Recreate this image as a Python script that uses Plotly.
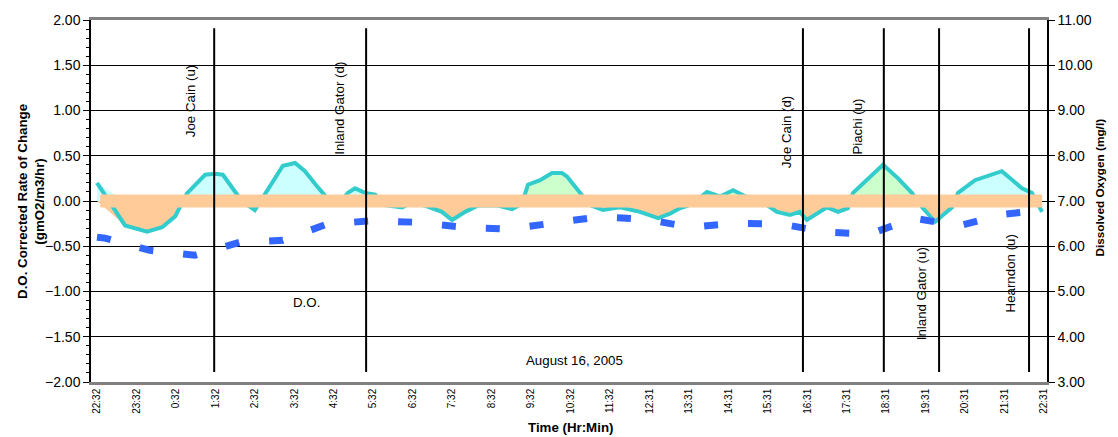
import plotly.graph_objects as go

# ---------------- data ----------------
tick_labels = ["22:32", "23:32", "0:32", "1:32", "2:32", "3:32", "4:32", "5:32", "6:32",
               "7:32", "8:32", "9:32", "10:32", "11:32", "12:31", "13:31", "14:31", "15:31",
               "16:31", "17:31", "18:31", "19:31", "20:31", "21:31", "22:31"]
tick_hours = list(range(25))

# D.O. corrected rate of change (gmO2/m3/hr), hours after 22:32
rate_hours = [0.00, 0.71, 1.27, 1.65, 1.98, 2.28, 2.74, 2.99, 3.19, 3.42, 3.67, 4.00, 4.21,
              4.71, 5.02, 5.27, 5.60, 5.90, 6.11, 6.36, 6.54, 6.79, 7.05, 7.30, 7.73, 7.93,
              8.31, 8.74, 9.00, 9.33, 9.66, 10.16, 10.52, 10.77, 10.92, 11.23, 11.53, 11.78,
              11.91, 12.24, 12.49, 12.82, 13.25, 13.76, 14.22, 14.52, 14.77, 15.03, 15.46,
              15.79, 16.12, 16.35, 16.68, 16.98, 17.23, 17.56, 17.81, 17.99, 18.50, 18.78,
              19.03, 19.16, 19.54, 19.92, 20.30, 20.65, 20.91, 21.24, 21.67, 21.82, 22.25,
              22.93, 23.44, 23.69, 23.95]
rate_values = [0.20, -0.27, -0.34, -0.29, -0.17, 0.085, 0.29, 0.30, 0.29, 0.15, 0.00, -0.10, 0.05,
               0.39, 0.42, 0.33, 0.15, 0.00, -0.03, 0.09, 0.14, 0.09, 0.07, -0.045, -0.07, -0.03,
               -0.05, -0.12, -0.21, -0.12, -0.05, -0.05, -0.09, -0.03, 0.18, 0.23, 0.31, 0.31,
               0.27, 0.09, -0.045, -0.10, -0.07, -0.12, -0.19, -0.14, -0.08, -0.045, 0.10,
               0.05, 0.12, 0.07, 0.00, -0.045, -0.12, -0.155, -0.12, -0.21, -0.07, -0.12,
               -0.08, 0.09, 0.25, 0.40, 0.25, 0.09, -0.07, -0.23, -0.07, 0.09, 0.23,
               0.33, 0.14, 0.09, -0.12]

# Dissolved oxygen (mg/l)
do_hours = [0.00, 0.20, 1.34, 2.48, 3.62, 4.71, 5.83, 6.94, 8.11, 9.28, 10.44, 11.58, 12.72,
            13.89, 15.03, 16.19, 17.36, 18.50, 19.59, 20.70, 21.85, 22.99, 23.97]
do_values = [6.20, 6.18, 5.91, 5.80, 6.09, 6.13, 6.49, 6.56, 6.53, 6.42, 6.38, 6.53, 6.65,
             6.60, 6.42, 6.51, 6.49, 6.31, 6.27, 6.62, 6.45, 6.71, 6.80]

station_names = ["Joe Cain (u)", "Inland Gator (d)", "Joe Cain (d)", "Piachi (u)",
                 "Inland Gator (u)", "Hearndon (u)"]
station_hours = [2.97, 6.82, 17.89, 19.94, 21.34, 23.62]
station_label_y = [1.105, 1.02, 0.76, 0.82, -1.03, -0.80]
station_label_shift = [-24, -26, -17, -26, -18, -19]

day_start, day_end = 10.0, 21.0

# ---------------- derived series ----------------
pos_night = [max(v, 0) if not (day_start <= h <= day_end) else 0 for h, v in zip(rate_hours, rate_values)]
pos_day = [max(v, 0) if (day_start <= h <= day_end) else 0 for h, v in zip(rate_hours, rate_values)]
neg_all = [min(v, 0) for v in rate_values]

FONT = "Arial, Liberation Sans, sans-serif"
fig = go.Figure()

fig.add_trace(go.Scatter(x=rate_hours, y=pos_night, mode="lines", fill="tozeroy",
                         fillcolor="#CCFFFF", line=dict(width=0), hoverinfo="skip"))
fig.add_trace(go.Scatter(x=rate_hours, y=pos_day, mode="lines", fill="tozeroy",
                         fillcolor="#CCFFCC", line=dict(width=0), hoverinfo="skip"))
fig.add_trace(go.Scatter(x=rate_hours, y=neg_all, mode="lines", fill="tozeroy",
                         fillcolor="#FFCC99", line=dict(width=0), hoverinfo="skip"))
fig.add_trace(go.Scatter(x=rate_hours, y=rate_values, mode="lines",
                         line=dict(color="#33CCCC", width=4)))
# zero band
fig.add_trace(go.Scatter(x=[rate_hours[0] + 0.08, rate_hours[-1]], y=[0, 0], mode="lines",
                         line=dict(color="#FFCC99", width=13)))
# dissolved oxygen
fig.add_trace(go.Scatter(x=do_hours, y=do_values, mode="lines", yaxis="y2",
                         line=dict(color="#3366FF", width=7, dash="14px,30px")))

for h in station_hours:
    fig.add_shape(type="line", xref="x", yref="y", x0=h, x1=h, y0=1.91, y1=-1.89,
                  line=dict(color="black", width=2), layer="above")

for name, h, y, s in zip(station_names, station_hours, station_label_y, station_label_shift):
    fig.add_annotation(x=h, y=y, xref="x", yref="y", text=name, textangle=-90,
                       showarrow=False, xshift=s, xanchor="center", yanchor="middle",
                       font=dict(family=FONT, size=13.3, color="black"))

fig.add_annotation(x=5.3, y=-1.12, xref="x", yref="y", text="D.O.", showarrow=False,
                   font=dict(family=FONT, size=13.3, color="black"))
fig.add_annotation(x=12.11, y=-1.76, xref="x", yref="y", text="August 16, 2005", showarrow=False,
                   font=dict(family=FONT, size=13.3, color="black"))

# axis titles
fig.add_annotation(xref="paper", yref="paper", x=-0.0628, y=0.5, textangle=-90,
                   xanchor="center", yanchor="middle",
                   text="<b>D.O. Corrected Rate of Change<br>(gmO2/m3/hr)</b>", showarrow=False,
                   font=dict(family=FONT, size=13.3, color="black"))
fig.add_annotation(xref="paper", yref="paper", x=1.0554, y=0.537, textangle=-90,
                   xanchor="center", yanchor="middle",
                   text="<b>Dissolved Oxygen (mg/l)</b>", showarrow=False,
                   font=dict(family=FONT, size=11.8, color="black"))
fig.add_annotation(xref="paper", yref="paper", x=0.502, y=-0.127,
                   xanchor="center", yanchor="middle",
                   text="<b>Time (Hr:Min)</b>", showarrow=False,
                   font=dict(family=FONT, size=13.3, color="black"))

# page body has an 8px margin, so the figure is sized/offset to compensate
fig.update_layout(
    width=1110, height=429,
    margin=dict(l=83, r=71, t=12, b=55, autoexpand=False),
    paper_bgcolor="white", plot_bgcolor="white",
    showlegend=False,
    font=dict(family=FONT, color="black"),
    xaxis=dict(range=[-0.152, 24.075], tickvals=tick_hours, ticktext=tick_labels,
               tickangle=-90, tickfont=dict(size=10), showgrid=False, zeroline=False,
               showline=True, linecolor="#808080", linewidth=2.5, mirror=True, ticks="",
               automargin=False),
    yaxis=dict(range=[-2, 2], dtick=0.5, tickformat=".2f", tickfont=dict(size=14),
               showgrid=True, gridcolor="black", gridwidth=1, zeroline=False,
               showline=True, linecolor="black", linewidth=1.5, ticks="outside", ticklen=6,
               tickcolor="black", automargin=False,
               minor=dict(dtick=0.1, ticks="outside", ticklen=3, tickcolor="black", showgrid=False)),
    yaxis2=dict(range=[3, 11], dtick=1, tickformat=".2f", tickfont=dict(size=14),
                overlaying="y", side="right", showgrid=False, zeroline=False,
                showline=True, linecolor="black", linewidth=1.5, ticks="outside", ticklen=6,
                tickcolor="black", automargin=False),
)

fig.write_html("out.html")
